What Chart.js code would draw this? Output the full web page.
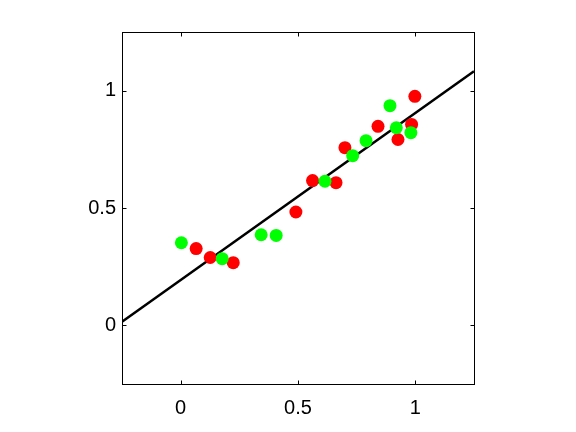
<!DOCTYPE html>
<html lang="en">
<head>
    <meta charset="UTF-8">
    <title>Scatter with fit line</title>
    <script src="https://cdn.jsdelivr.net/npm/chart.js"></script>
    <style>
        html, body { margin: 0; padding: 0; background: #fff; }
        #wrap { width: 576px; height: 432px; }
    </style>
</head>
<body>
    <div id="wrap">
        <canvas id="myChart" width="576" height="432"></canvas>
    </div>

    <script>
        // green points
        const greenX = [0.003, 0.177, 0.343, 0.407, 0.615, 0.733, 0.790, 0.892, 0.919, 0.981];
        const greenY = [0.352, 0.284, 0.386, 0.383, 0.614, 0.723, 0.787, 0.936, 0.842, 0.821];
        // red points
        const redX = [0.066, 0.126, 0.224, 0.491, 0.562, 0.662, 0.700, 0.841, 0.926, 0.984, 0.998];
        const redY = [0.327, 0.289, 0.267, 0.483, 0.617, 0.608, 0.757, 0.848, 0.792, 0.856, 0.976];
        // fitted line end points
        const lineX = [-0.25, 1.25];
        const lineY = [0.015, 1.083];
        // axes
        const axisMin = -0.25;
        const axisMax = 1.25;
        const tickValues = [0, 0.5, 1];

        const toPoints = (xs, ys) => xs.map((x, i) => ({ x: x, y: ys[i] }));

        // box round the plot with inward ticks on all four sides
        const boxPlugin = {
            id: "box",
            afterDraw(chart) {
                const ctx = chart.ctx;
                const a = chart.chartArea;
                const L = Math.round(a.left) + 0.5, R = Math.round(a.right) + 0.5;
                const T = Math.round(a.top) + 0.5, B = Math.round(a.bottom) + 0.5;
                const tl = 4;
                ctx.save();
                ctx.strokeStyle = "#000";
                ctx.lineWidth = 1;
                ctx.strokeRect(L, T, R - L, B - T);
                ctx.beginPath();
                tickValues.forEach(v => {
                    const px = Math.round(chart.scales.x.getPixelForValue(v)) + 0.5;
                    ctx.moveTo(px, B); ctx.lineTo(px, B - tl);
                    ctx.moveTo(px, T); ctx.lineTo(px, T + tl);
                    const py = Math.round(chart.scales.y.getPixelForValue(v)) + 0.5;
                    ctx.moveTo(L, py); ctx.lineTo(L + tl, py);
                    ctx.moveTo(R, py); ctx.lineTo(R - tl, py);
                });
                ctx.stroke();
                ctx.restore();
            }
        };

        const tickFont = { family: "'Liberation Sans', Arial, Helvetica, sans-serif", size: 20 };

        new Chart(document.getElementById("myChart").getContext("2d"), {
            type: "scatter",
            data: {
                datasets: [
                    {
                        label: "green",
                        data: toPoints(greenX, greenY),
                        backgroundColor: "#00ff00",
                        borderWidth: 0,
                        pointRadius: 6.5,
                        pointHoverRadius: 6.5
                    },
                    {
                        label: "red",
                        data: toPoints(redX, redY),
                        backgroundColor: "#ff0000",
                        borderWidth: 0,
                        pointRadius: 6.5,
                        pointHoverRadius: 6.5
                    },
                    {
                        label: "fit",
                        type: "line",
                        data: toPoints(lineX, lineY),
                        borderColor: "#000",
                        borderWidth: 2.6,
                        pointRadius: 0,
                        fill: false
                    }
                ]
            },
            options: {
                responsive: false,
                animation: false,
                layout: { padding: { left: 0, right: 102, top: 32, bottom: 0 } },
                plugins: {
                    legend: { display: false },
                    tooltip: { enabled: false }
                },
                scales: {
                    x: {
                        type: "linear",
                        min: axisMin,
                        max: axisMax,
                        grid: { display: false, drawTicks: false },
                        border: { display: false },
                        afterBuildTicks: s => { s.ticks = tickValues.map(v => ({ value: v })); },
                        afterFit: s => { s.height = 48; },
                        ticks: { color: "#000", font: tickFont, padding: 12, maxRotation: 0, callback: v => String(v) }
                    },
                    y: {
                        type: "linear",
                        min: axisMin,
                        max: axisMax,
                        grid: { display: false, drawTicks: false },
                        border: { display: false },
                        afterBuildTicks: s => { s.ticks = tickValues.map(v => ({ value: v })); },
                        afterFit: s => { s.width = 122; },
                        ticks: { color: "#000", font: tickFont, padding: 6, callback: v => String(v) }
                    }
                }
            },
            plugins: [boxPlugin]
        });
    </script>
</body>
</html>
